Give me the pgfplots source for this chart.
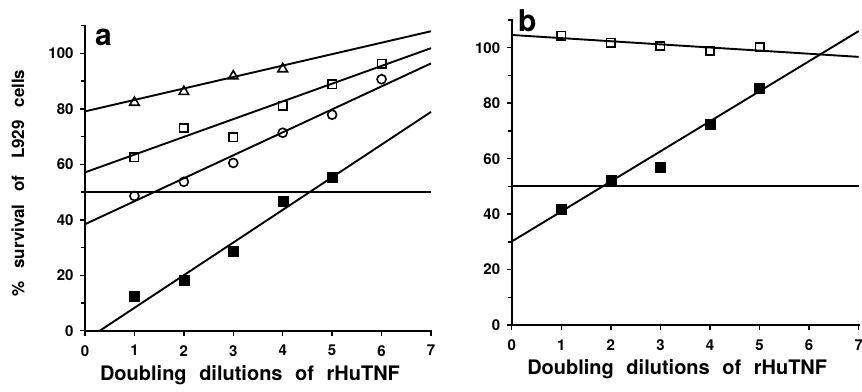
\documentclass[border=0pt]{standalone}
\usepackage{fontspec}
\setmainfont{TeX Gyre Heros}
\usepackage{pgfplots}
\pgfplotsset{compat=1.18}
\begin{document}
\begin{tikzpicture}[x=1pt,y=1pt]
\path[use as bounding box] (0,0) rectangle (862,-391);
\pgfplotsset{
  common/.style={
    scale only axis, height=305pt,
    xmin=0, xmax=7, ymin=0, ymax=110,
    axis x line*=bottom, axis y line*=left,
    axis line style={line width=1.8pt, line cap=rect},
    xtick={0,1,...,7}, ytick={0,20,...,100},
    minor ytick={10,30,...,110},
    tick align=outside,
    major tick length=5pt, minor tick length=4pt,
    every tick/.style={black, line width=1.5pt},
    /pgf/number format/assume math mode=true,
    ticklabel style={font=\fontsize{15}{15}\selectfont\bfseries},
    yticklabel style={xshift=-3pt},
    xticklabel style={yshift=-6pt},
    xlabel={Doubling\hspace{7pt} dilutions\hspace{7pt} of\hspace{7pt} rHuTNF},
    xlabel style={font=\fontsize{20}{20}\selectfont\bfseries, at={(axis description cs:0.5,0)}, anchor=north, yshift=-31pt, xshift=-8pt},
    clip=false,
    fitline/.style={black, line width=1.9pt, no marks},
    pts/.style={only marks, black, mark options={line width=1.6pt, fill=white, solid}},
  }
}
\begin{axis}[common, width=346pt, at={(85pt,-330.7pt)}, anchor=origin,
  ylabel={\%\hspace{8pt} survival\hspace{8pt} of\hspace{12pt} L929\hspace{8pt} cells},
  ylabel style={font=\fontsize{17}{17}\selectfont\bfseries, at={(axis description cs:-0.194,0.484)}, anchor=center}]
  \addplot[fitline] coordinates {(0,50) (7,50)};
  \addplot[fitline] coordinates {(0,79.1) (7,108)};
  \addplot[fitline] coordinates {(0,57.1) (7,101.9)};
  \addplot[fitline] coordinates {(0,38.4) (7,96.4)};
  \addplot[fitline] coordinates {(0.3,0) (7,78.9)};
  \addplot[pts, mark=triangle, mark size=5.5pt] coordinates {(1,82.3) (2,86.2) (3,91.8) (4,94.4)};
  \addplot[pts, mark=square, mark size=4.2pt] coordinates {(1,62.6) (2,73.1) (3,69.8) (4,81.1) (5,88.8) (6,96.3)};
  \addplot[pts, mark=o, mark size=4.5pt] coordinates {(1,48.6) (2,53.7) (3,60.5) (4,71.4) (5,77.9) (6,90.7)};
  \addplot[pts, mark=square*, mark size=5pt, mark options={fill=black}] coordinates {(1,12.6) (2,18.1) (3,28.5) (4,46.8) (5,55.3)};
  \node[anchor=base west, inner sep=0, font=\fontsize{30}{30}\selectfont\bfseries] at (rel axis cs:0.029,0.934) {a};
\end{axis}
\begin{axis}[common, width=347pt, at={(511.7pt,-325pt)}, anchor=origin]
  \addplot[fitline, line width=2.3pt] coordinates {(0,50.1) (7,50.1)};
  \addplot[fitline] coordinates {(0,104.6) (7,96.7)};
  \addplot[fitline] coordinates {(0,30.1) (7,106)};
  \addplot[pts, mark=square, mark size=4.2pt] coordinates {(1,104.4) (2,101.8) (3,100.6) (4,98.8) (5,100.2)};
  \addplot[pts, mark=square*, mark size=5pt, mark options={fill=black}] coordinates {(1,41.9) (2,52.4) (3,56.9) (4,72.3) (5,85.5)};
  \node[anchor=base west, inner sep=0, font=\fontsize{30}{30}\selectfont\bfseries] at (rel axis cs:0.018,0.963) {b};
\end{axis}
\end{tikzpicture}
\end{document}
